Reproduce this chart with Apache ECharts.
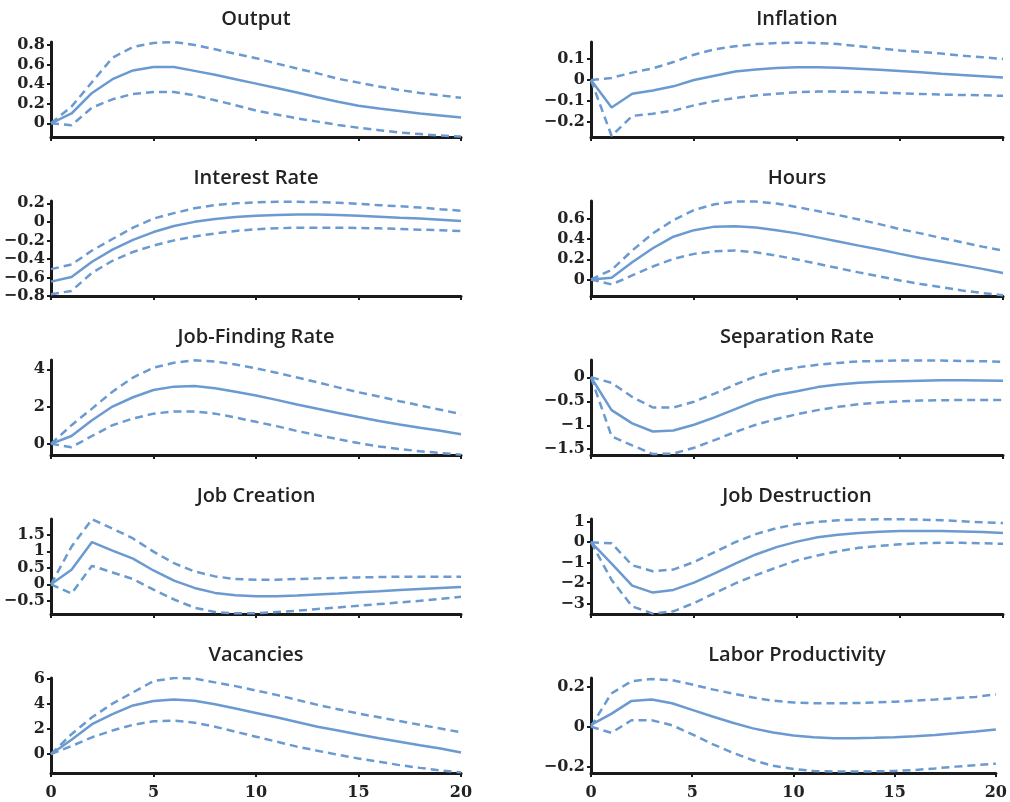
<!DOCTYPE html>
<html>
<head>
<meta charset="utf-8">
<script src="https://cdn.jsdelivr.net/npm/echarts@6/dist/echarts.min.js"></script>
<style>
html,body{margin:0;padding:0;background:#fff;}
#chart{width:1010px;height:802px;}
</style>
</head>
<body>
<div id="chart"></div>
<script>
// Horizon (quarters)
const horizon = [0,1,2,3,4,5,6,7,8,9,10,11,12,13,14,15,16,17,18,19,20];
const xTicks = [0,5,10,15,20];

const titles = ["Output","Inflation","Interest Rate","Hours","Job-Finding Rate","Separation Rate","Job Creation","Job Destruction","Vacancies","Labor Productivity"];

// Output
const outputMid = [0,0.1,0.31,0.45,0.54,0.575,0.575,0.535,0.495,0.45,0.405,0.36,0.315,0.265,0.22,0.18,0.15,0.125,0.1,0.08,0.06];
const outputUp  = [0,0.17,0.42,0.67,0.78,0.82,0.83,0.8,0.755,0.71,0.665,0.61,0.56,0.51,0.455,0.415,0.375,0.34,0.31,0.285,0.26];
const outputLo  = [0,-0.02,0.16,0.245,0.3,0.32,0.32,0.285,0.235,0.185,0.13,0.09,0.05,0.017,-0.017,-0.045,-0.07,-0.095,-0.11,-0.125,-0.135];
const outputTicks = [0,0.2,0.4,0.6,0.8];

// Inflation
const inflationMid = [0,-0.13,-0.065,-0.05,-0.03,0,0.02,0.04,0.05,0.057,0.06,0.06,0.058,0.053,0.048,0.043,0.037,0.03,0.024,0.018,0.012];
const inflationUp  = [0,0.01,0.035,0.055,0.085,0.12,0.145,0.16,0.17,0.175,0.177,0.175,0.17,0.16,0.15,0.14,0.133,0.125,0.115,0.108,0.1];
const inflationLo  = [0,-0.265,-0.17,-0.16,-0.145,-0.12,-0.1,-0.085,-0.073,-0.065,-0.058,-0.055,-0.055,-0.057,-0.06,-0.063,-0.066,-0.069,-0.071,-0.072,-0.075];
const inflationTicks = [-0.2,-0.1,0,0.1];

// Interest Rate
const interestMid = [-0.645,-0.595,-0.43,-0.3,-0.195,-0.11,-0.045,0,0.03,0.052,0.066,0.075,0.08,0.08,0.073,0.066,0.056,0.045,0.035,0.024,0.01];
const interestUp  = [-0.51,-0.46,-0.31,-0.185,-0.063,0.035,0.094,0.147,0.18,0.2,0.21,0.217,0.217,0.213,0.206,0.195,0.18,0.168,0.154,0.136,0.12];
const interestLo  = [-0.78,-0.745,-0.55,-0.42,-0.325,-0.255,-0.2,-0.157,-0.125,-0.098,-0.08,-0.07,-0.063,-0.063,-0.063,-0.066,-0.07,-0.077,-0.084,-0.09,-0.1];
const interestTicks = [-0.8,-0.6,-0.4,-0.2,0,0.2];

// Hours
const hoursMid = [0,0.017,0.17,0.31,0.425,0.49,0.525,0.53,0.517,0.49,0.458,0.418,0.378,0.336,0.297,0.254,0.214,0.178,0.142,0.105,0.063];
const hoursUp  = [0,0.095,0.287,0.458,0.59,0.69,0.748,0.775,0.775,0.755,0.72,0.68,0.64,0.596,0.55,0.5,0.458,0.412,0.37,0.326,0.287];
const hoursLo  = [0,-0.05,0.04,0.128,0.204,0.254,0.28,0.287,0.27,0.237,0.198,0.155,0.112,0.07,0.03,-0.01,-0.046,-0.076,-0.11,-0.135,-0.158];
const hoursTicks = [0,0.2,0.4,0.6];

// Job-Finding Rate
const jobFindMid = [0,0.42,1.27,2.0,2.5,2.89,3.07,3.1,2.98,2.8,2.59,2.36,2.11,1.88,1.66,1.44,1.23,1.04,0.86,0.7,0.51];
const jobFindUp  = [0,1.0,1.89,2.8,3.56,4.09,4.35,4.48,4.42,4.26,4.05,3.82,3.56,3.3,3.03,2.77,2.54,2.29,2.06,1.83,1.59];
const jobFindLo  = [0,-0.18,0.42,1.0,1.36,1.62,1.74,1.74,1.62,1.41,1.18,0.95,0.69,0.46,0.25,0.04,-0.14,-0.28,-0.4,-0.49,-0.58];
const jobFindTicks = [0,2,4];

// Separation Rate
const sepMid = [0,-0.685,-0.96,-1.13,-1.11,-0.99,-0.835,-0.665,-0.49,-0.37,-0.29,-0.205,-0.15,-0.115,-0.095,-0.082,-0.07,-0.062,-0.062,-0.068,-0.075];
const sepUp  = [0,-0.115,-0.41,-0.63,-0.63,-0.51,-0.34,-0.15,0.02,0.137,0.205,0.26,0.3,0.33,0.34,0.35,0.35,0.35,0.34,0.335,0.32];
const sepLo  = [0,-1.23,-1.42,-1.6,-1.59,-1.47,-1.31,-1.14,-0.99,-0.87,-0.77,-0.685,-0.616,-0.56,-0.527,-0.5,-0.486,-0.48,-0.473,-0.473,-0.473];
const sepTicks = [-1.5,-1,-0.5,0];

// Job Creation
const jobCreMid = [0,0.44,1.28,1.02,0.78,0.42,0.11,-0.11,-0.26,-0.33,-0.36,-0.36,-0.34,-0.31,-0.28,-0.24,-0.21,-0.17,-0.14,-0.11,-0.08];
const jobCreUp  = [0,1.14,1.97,1.69,1.39,0.99,0.64,0.39,0.24,0.16,0.14,0.14,0.16,0.18,0.19,0.21,0.22,0.23,0.23,0.23,0.23];
const jobCreLo  = [0,-0.28,0.56,0.36,0.16,-0.16,-0.46,-0.71,-0.84,-0.88,-0.88,-0.84,-0.8,-0.75,-0.7,-0.65,-0.6,-0.55,-0.5,-0.44,-0.38];
const jobCreTicks = [-0.5,0,0.5,1,1.5];

// Job Destruction
const jobDesMid = [0,-1.05,-2.13,-2.47,-2.34,-1.98,-1.53,-1.05,-0.6,-0.24,0.03,0.24,0.37,0.45,0.52,0.55,0.55,0.55,0.53,0.5,0.45];
const jobDesUp  = [0,-0.05,-1.13,-1.42,-1.34,-0.97,-0.48,0,0.4,0.69,0.89,1.0,1.08,1.11,1.13,1.13,1.11,1.08,1.03,0.98,0.94];
const jobDesLo  = [0,-1.85,-3.15,-3.5,-3.39,-2.98,-2.5,-2.02,-1.61,-1.24,-0.89,-0.65,-0.44,-0.27,-0.18,-0.1,-0.05,-0.03,-0.03,-0.05,-0.08];
const jobDesTicks = [-3,-2,-1,0,1];

// Vacancies
const vacMid = [0,1.15,2.4,3.2,3.9,4.25,4.38,4.28,4.0,3.65,3.3,2.95,2.58,2.2,1.9,1.57,1.28,1.0,0.72,0.45,0.13];
const vacUp  = [0,1.6,2.95,4.05,4.95,5.85,6.1,6.05,5.75,5.45,5.1,4.75,4.35,3.95,3.6,3.25,2.95,2.65,2.35,2.05,1.75];
const vacLo  = [0,0.65,1.35,1.9,2.35,2.63,2.68,2.52,2.2,1.8,1.4,1.0,0.6,0.27,-0.05,-0.35,-0.6,-0.88,-1.1,-1.3,-1.46];
const vacTicks = [0,2,4,6];

// Labor Productivity
const prodMid = [0.01,0.065,0.13,0.137,0.118,0.085,0.052,0.02,-0.008,-0.029,-0.044,-0.052,-0.057,-0.057,-0.055,-0.052,-0.047,-0.041,-0.033,-0.024,-0.013];
const prodUp  = [0,0.167,0.229,0.24,0.234,0.212,0.188,0.167,0.147,0.131,0.122,0.118,0.118,0.119,0.122,0.126,0.131,0.137,0.144,0.15,0.163];
const prodLo  = [0,-0.03,0.033,0.033,0.008,-0.038,-0.087,-0.13,-0.168,-0.196,-0.212,-0.222,-0.225,-0.225,-0.224,-0.222,-0.217,-0.209,-0.2,-0.193,-0.185];
const prodTicks = [-0.2,0,0.2];

// Axis ranges [min, max]
const yRanges = [[-0.14,0.83],[-0.27,0.18],[-0.8,0.225],[-0.165,0.78],[-0.6,4.5],[-1.62,0.36],[-0.9,1.98],[-3.52,1.14],[-1.51,6.1],[-0.232,0.245]];

const panels = [
  [outputMid,outputUp,outputLo,outputTicks],
  [inflationMid,inflationUp,inflationLo,inflationTicks],
  [interestMid,interestUp,interestLo,interestTicks],
  [hoursMid,hoursUp,hoursLo,hoursTicks],
  [jobFindMid,jobFindUp,jobFindLo,jobFindTicks],
  [sepMid,sepUp,sepLo,sepTicks],
  [jobCreMid,jobCreUp,jobCreLo,jobCreTicks],
  [jobDesMid,jobDesUp,jobDesLo,jobDesTicks],
  [vacMid,vacUp,vacLo,vacTicks],
  [prodMid,prodUp,prodLo,prodTicks]
];

const LINE = '#6a9ad0';
const AXIS = '#1a1a1a';
const colLeft = [51, 591];
const colWidth = [410, 412];
const rowTop = [42, 201, 360, 519, 678];
const plotH = 95;

const grids = [], xAxes = [], yAxes = [], series = [], titleArr = [];
const fmt = v => String(v).replace('-', '\u2212');
const labelFont = {fontFamily: 'DejaVu Serif', fontWeight: 'bold', fontSize: 16, color: '#222'};

panels.forEach((p, i) => {
  const col = i % 2, row = Math.floor(i / 2);
  grids.push({left: colLeft[col], top: rowTop[row], width: colWidth[col], height: plotH, containLabel: false});
  titleArr.push({
    text: titles[i],
    left: colLeft[col] + colWidth[col] / 2 - 5,
    top: rowTop[row] - 38,
    textAlign: 'center',
    textStyle: {fontFamily: 'Open Sans', fontWeight: 600, fontSize: 20, color: '#222'}
  });
  const bottomRow = row === 4;
  xAxes.push({
    type: 'value', gridIndex: i, min: 0, max: 20,
    axisLine: {show: true, onZero: false, lineStyle: {color: AXIS, width: 3}},
    axisTick: {show: true, length: 4, customValues: xTicks, lineStyle: {color: AXIS, width: 2}},
    axisLabel: Object.assign({show: bottomRow, customValues: xTicks, margin: 12}, labelFont),
    splitLine: {show: false}
  });
  yAxes.push({
    type: 'value', gridIndex: i, min: yRanges[i][0], max: yRanges[i][1],
    axisLine: {show: true, onZero: false, lineStyle: {color: AXIS, width: 3}},
    axisTick: {show: true, length: 4, customValues: p[3], lineStyle: {color: AXIS, width: 2}},
    axisLabel: Object.assign({show: true, customValues: p[3], margin: 6, formatter: fmt}, labelFont),
    splitLine: {show: false}
  });
  const toPts = arr => horizon.map((h, j) => [h, arr[j]]);
  series.push({type: 'line', xAxisIndex: i, yAxisIndex: i, data: toPts(p[1]), showSymbol: false, silent: true,
    lineStyle: {color: LINE, width: 2.5, type: [8, 5]}});
  series.push({type: 'line', xAxisIndex: i, yAxisIndex: i, data: toPts(p[2]), showSymbol: false, silent: true,
    lineStyle: {color: LINE, width: 2.5, type: [8, 5]}});
  series.push({type: 'line', xAxisIndex: i, yAxisIndex: i, data: toPts(p[0]), showSymbol: false, silent: true,
    lineStyle: {color: LINE, width: 2.5}});
});

const chart = echarts.init(document.getElementById('chart'), null, {renderer: 'canvas'});
chart.setOption({
  animation: false,
  backgroundColor: '#fff',
  title: titleArr,
  grid: grids,
  xAxis: xAxes,
  yAxis: yAxes,
  series: series
});
</script>
</body>
</html>
